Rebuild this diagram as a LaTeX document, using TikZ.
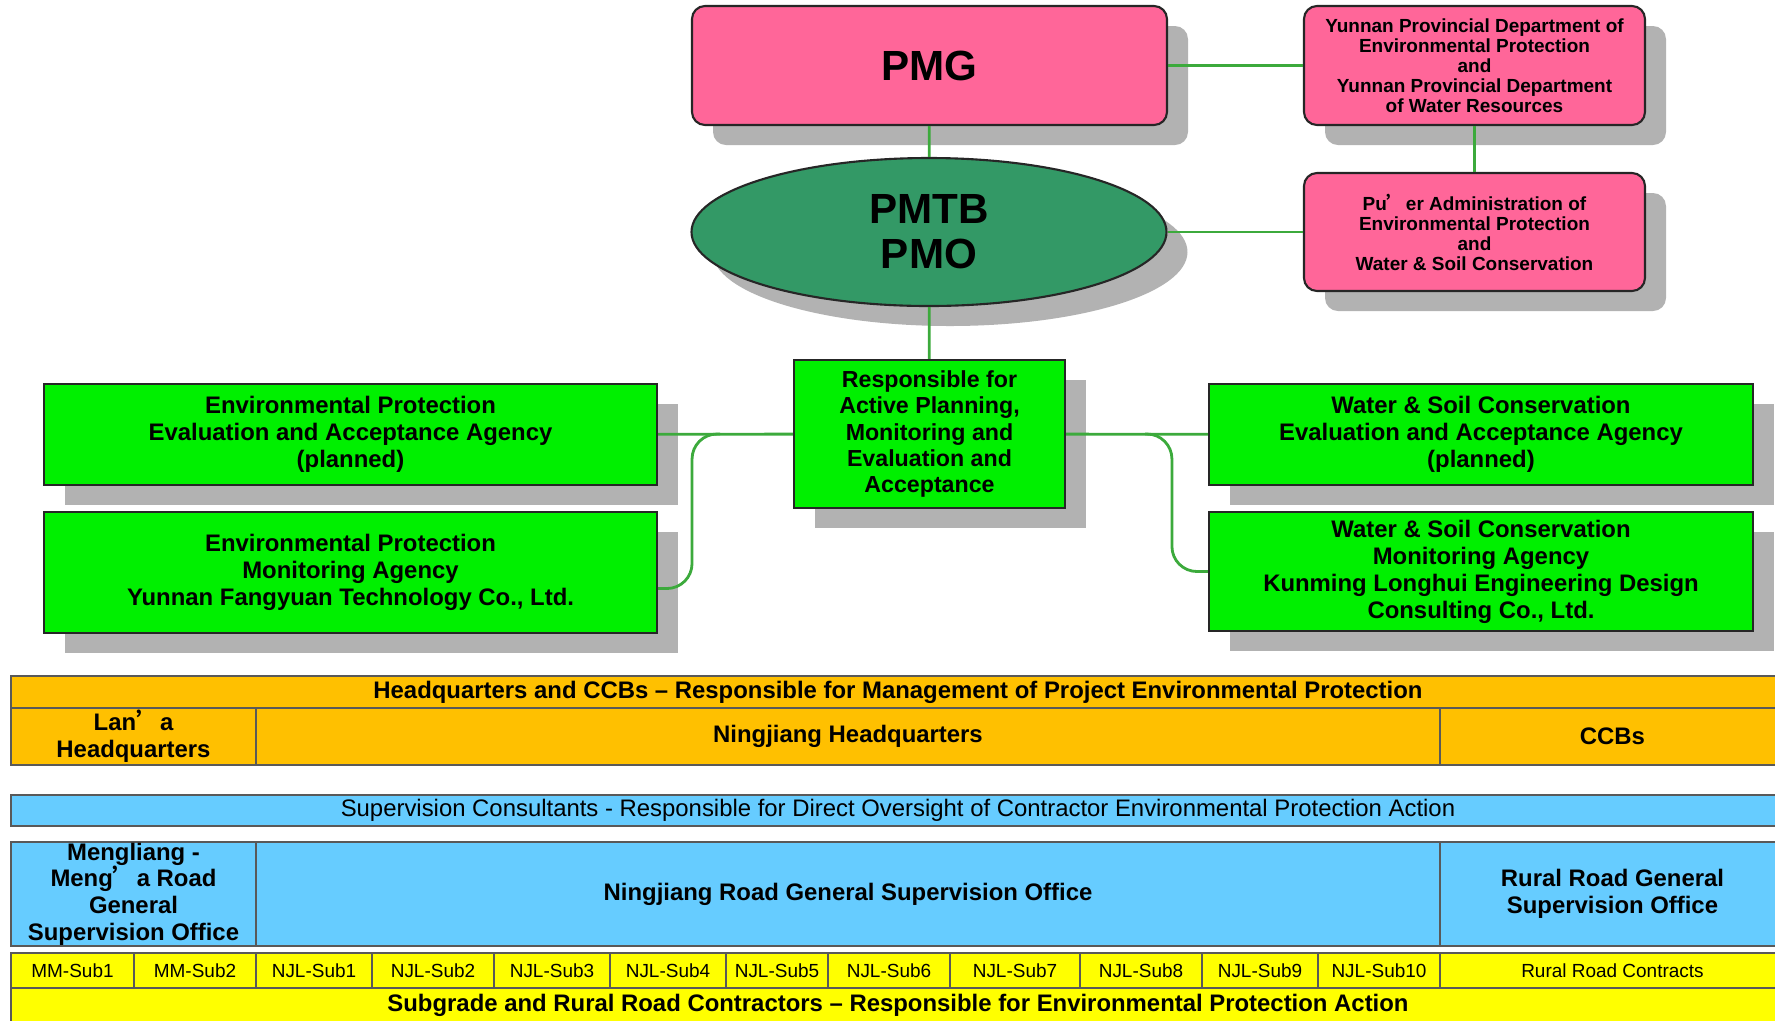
\documentclass[tikz,border=0pt]{standalone}
\usepackage{fontspec}
\setmainfont{Liberation Sans}
\newfontfamily\cjk{Noto Sans CJK SC}
\usetikzlibrary{shapes.geometric, shadows}

\definecolor{pinkfill}{RGB}{255,102,153}
\definecolor{ovalgreen}{RGB}{51,153,102}
\definecolor{boxgreen}{RGB}{0,240,0}
\definecolor{linkgreen}{RGB}{60,170,60}
\definecolor{hqorange}{RGB}{255,192,0}
\definecolor{supblue}{RGB}{102,204,255}
\definecolor{subyellow}{RGB}{255,255,0}

\newcommand{\apos}{{\cjk ’}}

\tikzset{
  boxshadow/.style={drop shadow={shadow xshift=2.1mm, shadow yshift=-2mm, fill=black!30, opacity=1}},
  pinkbox/.style={draw=black!85, line width=0.6pt, fill=pinkfill, rounded corners=1.3mm,
    boxshadow, align=center, inner sep=0pt, font=\bfseries\fontsize{5.4}{5.7}\selectfont},
  greenbox/.style={draw=black!85, line width=0.6pt, fill=boxgreen, boxshadow,
    align=center, inner sep=0pt, font=\bfseries\fontsize{6.8}{7.7}\selectfont},
  link/.style={draw=linkgreen, line width=0.8pt},
  hqcell/.style={draw=black!65, line width=0.5pt, fill=hqorange},
  supcell/.style={draw=black!65, line width=0.5pt, fill=supblue},
  subcell/.style={draw=black!65, line width=0.5pt, fill=subyellow},
  tbold/.style={align=center, font=\bfseries\fontsize{6.8}{7.6}\selectfont},
  tplain/.style={align=center, font=\fontsize{6.8}{7.6}\selectfont},
  tsmall/.style={align=center, font=\fontsize{5.4}{6}\selectfont}
}

\begin{document}
\begin{tikzpicture}[x=0.1mm, y=-0.1mm]
  \useasboundingbox (0,0) rectangle (1775,1020);

  % Top of the organisation
  \node[pinkbox, minimum width=47.5mm, minimum height=11.9mm, font=\bfseries\fontsize{12}{12.8}\selectfont]
    (pmg) at (929.5,65.5) {PMG};
  \node[pinkbox, minimum width=34.1mm, minimum height=11.9mm] (yunnan) at (1474.5,65.5)
    {Yunnan Provincial Department of\\Environmental Protection\\and\\Yunnan Provincial Department\\of Water Resources};
  \node[ellipse, draw=black!85, line width=0.6pt, fill=ovalgreen, boxshadow,
    minimum width=47.5mm, minimum height=14.8mm, inner sep=0pt, align=center,
    font=\bfseries\fontsize{12}{12.8}\selectfont] (pmtb) at (929,232) {PMTB\\PMO};
  \node[pinkbox, minimum width=34.1mm, minimum height=11.8mm] (puer) at (1474.5,232)
    {Pu\apos er Administration of\\Environmental Protection\\and\\Water \& Soil Conservation};

  % Agencies
  \node[greenbox, minimum width=27.1mm, minimum height=14.8mm, font=\bfseries\fontsize{6.6}{7.5}\selectfont]
    (resp) at (929.5,434) {Responsible for\\Active Planning,\\Monitoring and\\Evaluation and\\Acceptance};
  \node[greenbox, minimum width=61.3mm, minimum height=10.1mm] (epeval) at (350.5,434.5)
    {Environmental Protection\\Evaluation and Acceptance Agency\\(planned)};
  \node[greenbox, minimum width=61.3mm, minimum height=12.1mm] (epmon) at (350.5,572.5)
    {Environmental Protection\\Monitoring Agency\\Yunnan Fangyuan Technology Co., Ltd.};
  \node[greenbox, minimum width=54.4mm, minimum height=10.1mm] (wseval) at (1481,434.5)
    {Water \& Soil Conservation\\Evaluation and Acceptance Agency\\(planned)};
  \node[greenbox, minimum width=54.4mm, minimum height=11.9mm] (wsmon) at (1481,571.5)
    {Water \& Soil Conservation\\Monitoring Agency\\Kunming Longhui Engineering Design\\Consulting Co., Ltd.};

  % Connectors
  \draw[link] (pmg) -- (pmtb);
  \draw[link] (pmg) -- (yunnan);
  \draw[link] (yunnan) -- (puer);
  \draw[link] (pmtb) -- (puer);
  \draw[link] (pmtb) -- (resp);
  \draw[link] (resp) -- (epeval);
  \draw[link] (resp) -- (wseval);
  \coordinate (ljoin) at (720,434);
  \coordinate (rjoin) at (1145,434);
  \draw[link, rounded corners=2.5mm] (ljoin) -| ([xshift=3.4mm, yshift=-1.6mm]epmon.east) -- ([yshift=-1.6mm]epmon.east);
  \draw[link, rounded corners=2.5mm] (rjoin) -| ([xshift=-3.6mm]wsmon.west) -- (wsmon.west);

  % Headquarters and CCBs
  \draw[hqcell] (11,676) rectangle (1785,708) node[midway, tbold] (hqtitle)
    {Headquarters and CCBs – Responsible for Management of Project Environmental Protection};
  \draw[hqcell] (11,708) rectangle (256,765) node[midway, tbold] (lanhq) {Lan\apos a\\Headquarters};
  \draw[hqcell] (256,708) rectangle (1440,765) node[midway, tbold] (njhq) {Ningjiang Headquarters};
  \draw[hqcell] (1440,708) rectangle (1785,765) node[midway, tbold] (ccbs) {CCBs};

  % Supervision consultants
  \draw[supcell] (11,795) rectangle (1785,826) node[midway, tplain] (suptitle)
    {Supervision Consultants - Responsible for Direct Oversight of Contractor Environmental Protection Action};
  \draw[supcell] (11,842) rectangle (256,946) node[midway, tbold] (mmsup)
    {Mengliang -\\Meng\apos a Road\\General\\Supervision Office};
  \draw[supcell] (256,842) rectangle (1440,946) node[midway, tbold] (njsup)
    {Ningjiang Road General Supervision Office};
  \draw[supcell] (1440,842) rectangle (1785,946) node[midway, tbold] (rrsup)
    {Rural Road General\\Supervision Office};

  % Contractors
  \foreach \xa/\xb/\lab in {11/134/MM-Sub1, 134/256/MM-Sub2, 256/372/NJL-Sub1, 372/494/NJL-Sub2,
      494/610/NJL-Sub3, 610/726/NJL-Sub4, 726/828/NJL-Sub5, 828/950/NJL-Sub6, 950/1080/NJL-Sub7,
      1080/1202/NJL-Sub8, 1202/1318/NJL-Sub9, 1318/1440/NJL-Sub10, 1440/1785/Rural Road Contracts}
    \draw[subcell] (\xa,953) rectangle (\xb,988) node[midway, tsmall] {\lab};
  \draw[subcell] (11,988) rectangle (1785,1022) node[midway, tbold] (subtitle)
    {Subgrade and Rural Road Contractors – Responsible for Environmental Protection Action};
\end{tikzpicture}
\end{document}
